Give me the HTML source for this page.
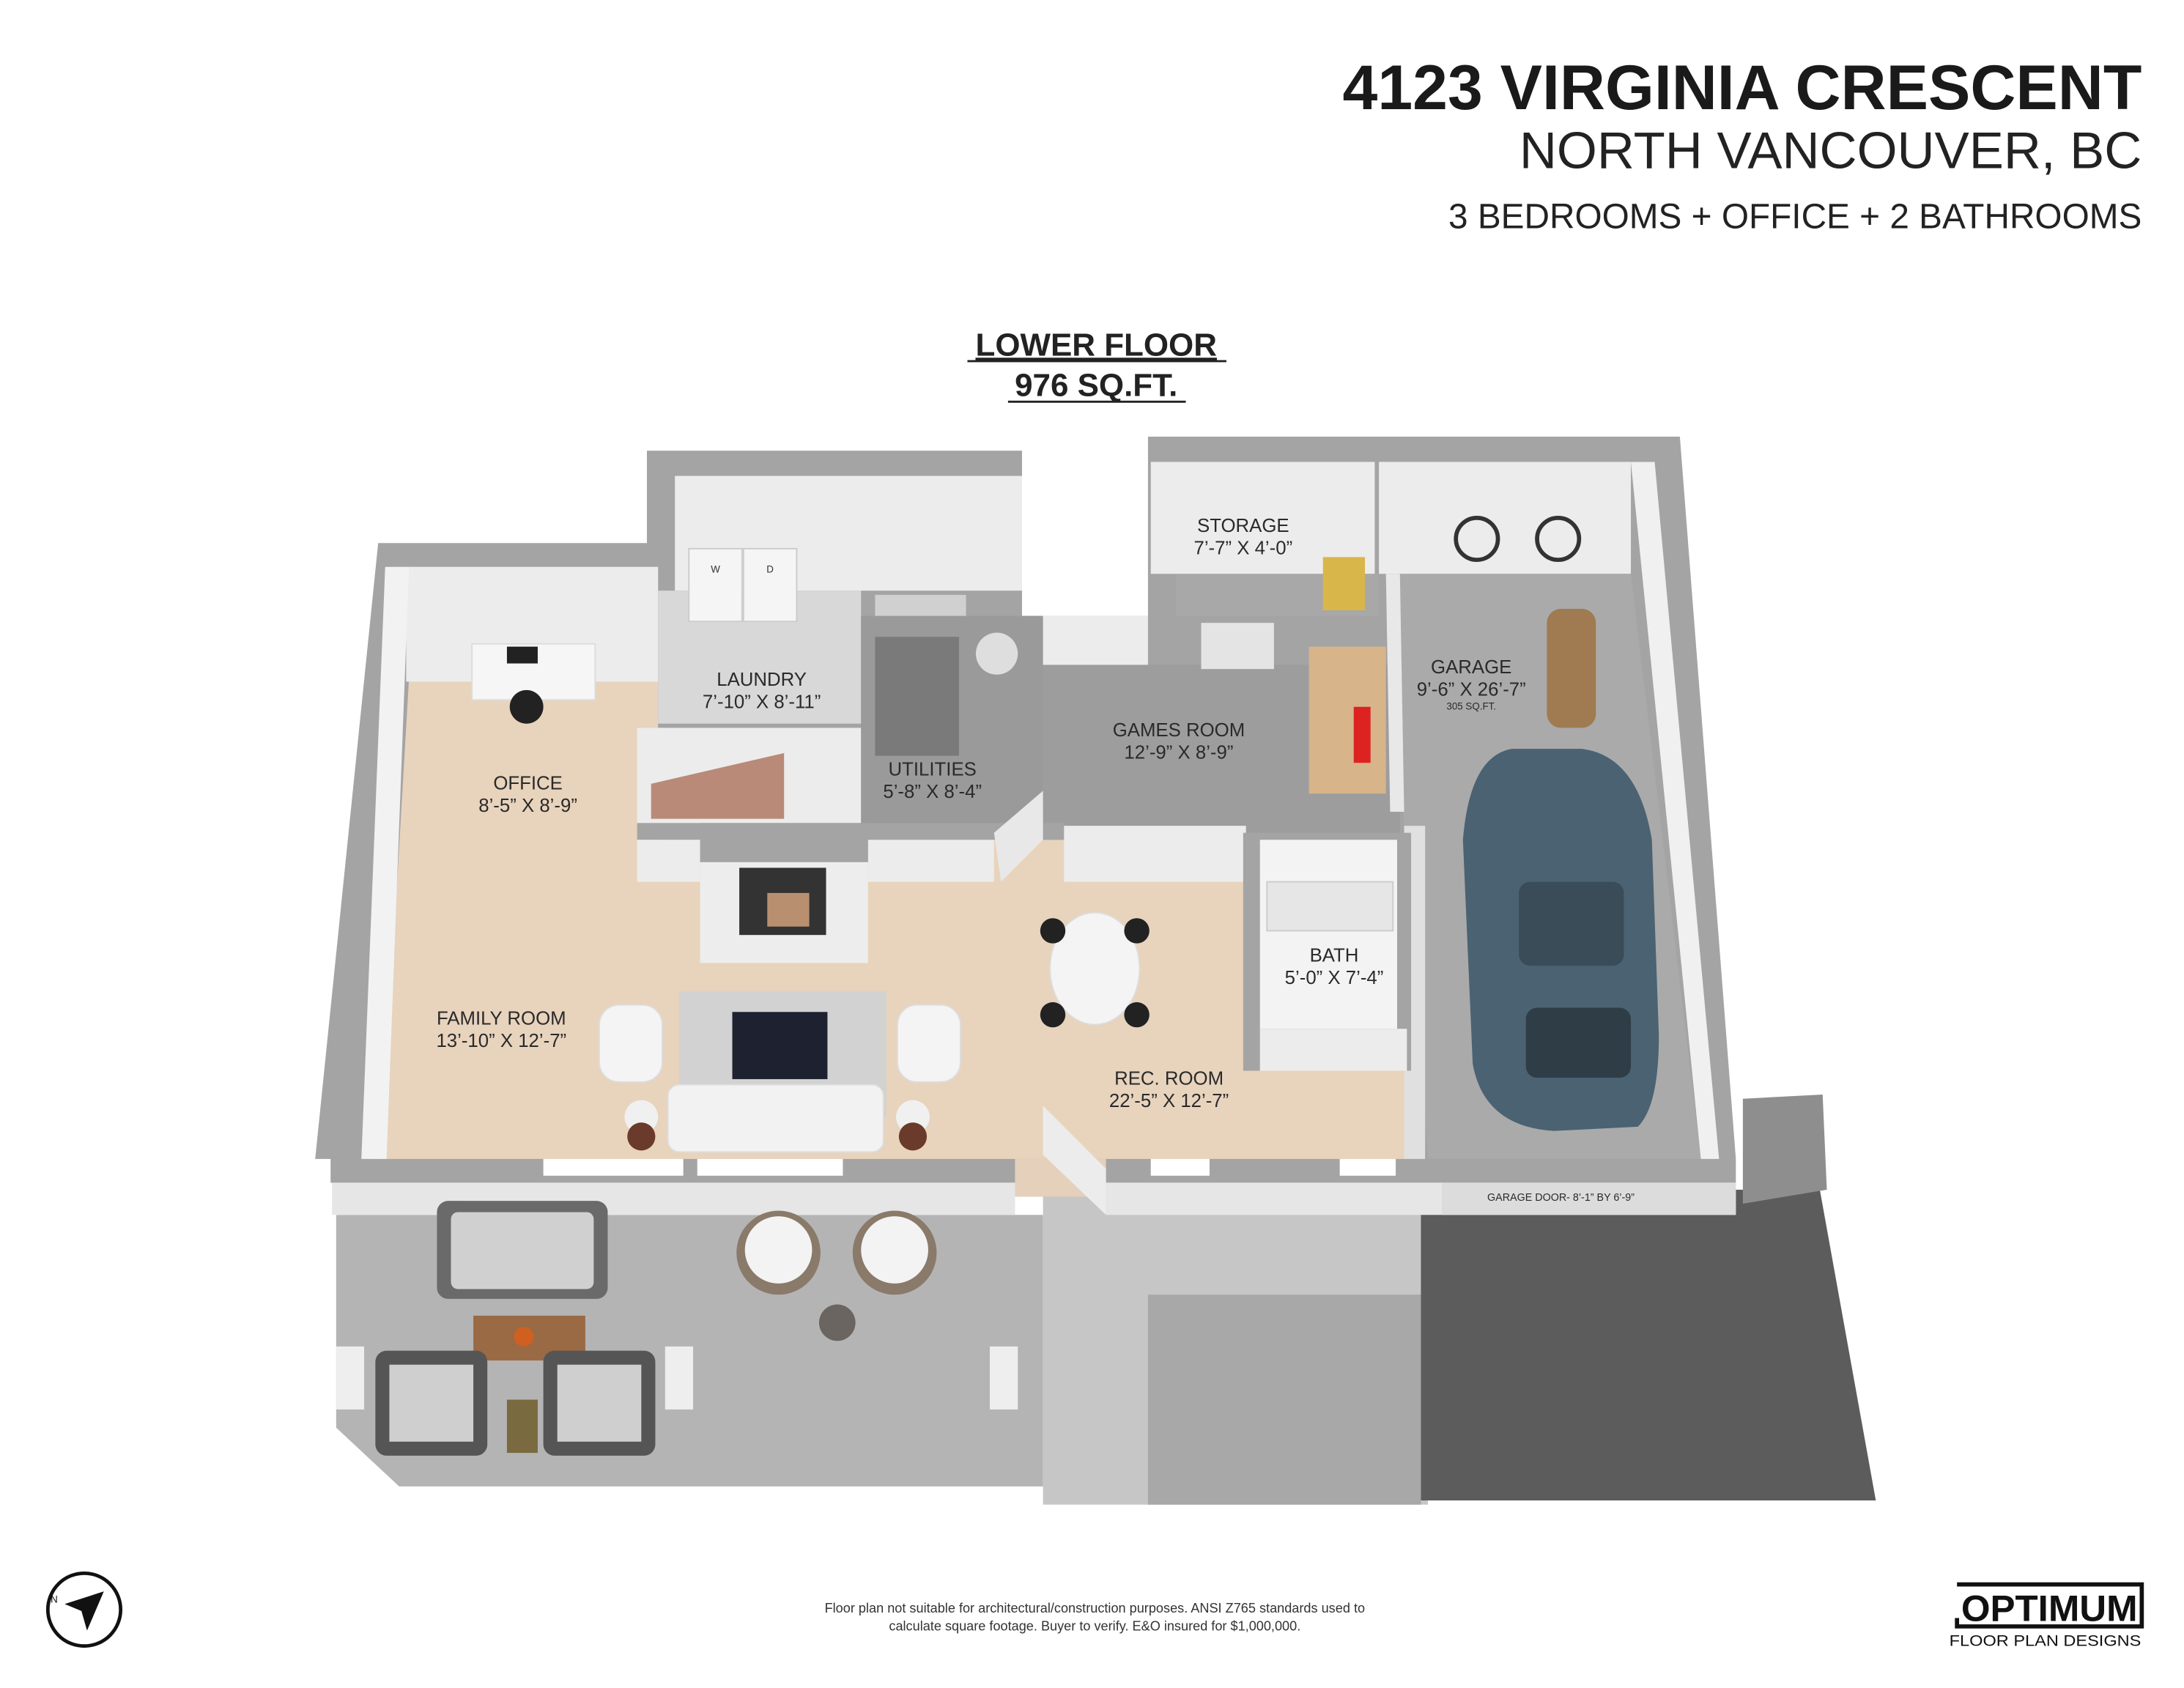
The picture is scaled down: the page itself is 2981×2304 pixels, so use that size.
<!DOCTYPE html>
<html><head><meta charset="utf-8"><style>
html,body{margin:0;padding:0;background:#fff}
svg{display:block}
text{font-family:"Liberation Sans",sans-serif}
</style></head><body>
<svg width="2981" height="2304" viewBox="0 0 1560 1206" xmlns="http://www.w3.org/2000/svg">
<rect width="1560" height="1206" fill="#fff"/>
<!-- titles -->
<text x="1530" y="78" text-anchor="end" font-size="45" font-weight="bold" fill="#1a1a1a">4123 VIRGINIA CRESCENT</text>
<text x="1530" y="120" text-anchor="end" font-size="37" fill="#222">NORTH VANCOUVER, BC</text>
<text x="1530" y="163" text-anchor="end" font-size="25" fill="#222">3 BEDROOMS + OFFICE + 2 BATHROOMS</text>
<text x="783" y="254" text-anchor="middle" font-size="23" font-weight="bold" fill="#222" text-decoration="underline">LOWER FLOOR</text>
<line x1="691" y1="258" x2="876" y2="258" stroke="#222" stroke-width="1.5"/>
<text x="783" y="283" text-anchor="middle" font-size="23" font-weight="bold" fill="#222">976 SQ.FT.</text>
<line x1="720" y1="287" x2="847" y2="287" stroke="#222" stroke-width="1.5"/>

<!-- outdoor -->
<polygon points="240,868 745,868 745,1062 285,1062 240,1020" fill="#b4b4b4"/>
<rect x="745" y="850" width="275" height="225" fill="#c6c6c6"/>
<rect x="820" y="925" width="195" height="150" fill="#a8a8a8"/>
<polygon points="1015,850 1300,850 1340,1072 1015,1072" fill="#5c5c5c"/>
<polygon points="1245,785 1302,782 1305,850 1245,860" fill="#8e8e8e"/>

<!-- outer walls -->
<polygon points="270,388 462,388 462,322 730,322 730,440 820,440 820,312 1200,312 1240,828 1240,845 236,845 236,828 225,828" fill="#a4a4a4"/>
<!-- bottom wall faces -->
<rect x="237" y="845" width="488" height="23" fill="#e6e6e6"/>
<rect x="790" y="845" width="450" height="23" fill="#e6e6e6"/>
<rect x="1030" y="845" width="210" height="23" fill="#dcdcdc"/>
<rect x="725" y="828" width="65" height="27" fill="#e4d0bb"/>

<!-- wood floor -->
<polygon points="292,485 470,485 470,600 1005,600 1005,828 272,828" fill="#e8d3bd"/>
<!-- office inner face -->
<rect x="290" y="405" width="180" height="82" fill="#ececec"/>
<polygon points="275,405 292,405 276,828 258,828" fill="#f2f2f2"/>
<!-- laundry -->
<rect x="482" y="340" width="248" height="82" fill="#ececec"/>
<rect x="470" y="422" width="145" height="95" fill="#d8d8d8"/>
<rect x="492" y="392" width="38" height="52" fill="#f5f5f5" stroke="#ccc"/>
<rect x="531" y="392" width="38" height="52" fill="#f5f5f5" stroke="#ccc"/>
<text x="511" y="409" font-size="7" text-anchor="middle" fill="#333">W</text>
<text x="550" y="409" font-size="7" text-anchor="middle" fill="#333">D</text>
<rect x="625" y="425" width="65" height="18" fill="#d0d0d0"/>
<!-- stairs -->
<rect x="455" y="520" width="160" height="70" fill="#ececec"/>
<polygon points="465,585 560,585 560,538 465,560" fill="#b98a78"/>
<!-- utilities -->
<rect x="615" y="440" width="130" height="160" fill="#9a9a9a"/>
<rect x="625" y="455" width="60" height="85" fill="#7a7a7a"/>
<circle cx="712" cy="467" r="15" fill="#dedede"/>
<!-- games room -->
<rect x="745" y="440" width="75" height="35" fill="#ececec"/>
<rect x="745" y="475" width="255" height="120" fill="#9d9d9d"/>
<rect x="858" y="445" width="52" height="33" fill="#e4e4e4"/>
<rect x="935" y="462" width="55" height="105" fill="#d7b48a"/>
<rect x="967" y="505" width="12" height="40" fill="#d22"/>
<!-- storage -->
<rect x="822" y="330" width="160" height="80" fill="#ececec"/>
<rect x="840" y="410" width="145" height="30" fill="#a8a8a8"/>
<rect x="945" y="398" width="30" height="38" fill="#d9b64a"/>
<!-- garage -->
<rect x="985" y="330" width="180" height="80" fill="#ececec"/>
<polygon points="990,410 1165,410 1215,828 1020,828" fill="#aaaaaa"/>
<polygon points="1165,330 1182,330 1228,828 1215,828" fill="#f0f0f0"/>
<polygon points="990,410 1000,410 1003,580 993,580" fill="#e8e8e8"/>
<rect x="1003" y="590" width="15" height="238" fill="#e0e0e0"/>
<circle cx="1055" cy="385" r="15" fill="none" stroke="#333" stroke-width="3"/>
<circle cx="1113" cy="385" r="15" fill="none" stroke="#333" stroke-width="3"/>
<rect x="1105" y="435" width="35" height="85" rx="10" fill="#a07a50"/>
<path d="M1080,535 Q1050,540 1045,600 L1052,760 Q1060,805 1110,808 L1170,805 Q1185,790 1185,740 L1180,600 Q1170,540 1130,535 Z" fill="#4b6272"/>
<rect x="1085" y="630" width="75" height="60" rx="8" fill="#3a4c58"/>
<rect x="1090" y="720" width="75" height="50" rx="8" fill="#2f3d47"/>
<!-- inner dividing walls -->
<rect x="455" y="588" width="305" height="12" fill="#a4a4a4"/>
<rect x="455" y="600" width="45" height="30" fill="#ececec"/>
<rect x="620" y="600" width="90" height="30" fill="#ececec"/>
<rect x="760" y="590" width="130" height="40" fill="#ececec"/>
<polygon points="710,595 745,565 745,600 715,630" fill="#e8e8e8"/>
<!-- fireplace -->
<rect x="500" y="588" width="120" height="28" fill="#a4a4a4"/>
<rect x="500" y="616" width="120" height="72" fill="#ededed"/>
<rect x="528" y="620" width="62" height="48" fill="#333"/>
<rect x="548" y="638" width="30" height="24" fill="#b89070"/>
<!-- bath -->
<rect x="888" y="595" width="120" height="170" fill="#a4a4a4"/>
<rect x="900" y="600" width="98" height="135" fill="#f3f3f3"/>
<rect x="900" y="735" width="105" height="30" fill="#ececec"/>
<rect x="905" y="630" width="90" height="35" fill="#e6e6e6" stroke="#ccc"/>
<!-- family furniture -->
<rect x="485" y="708" width="148" height="90" fill="#d2d2d2"/>
<rect x="523" y="723" width="68" height="48" fill="#1e2230"/>
<rect x="428" y="718" width="45" height="55" rx="14" fill="#f4f4f4" stroke="#ddd"/>
<rect x="641" y="718" width="45" height="55" rx="14" fill="#f4f4f4" stroke="#ddd"/>
<rect x="477" y="775" width="154" height="48" rx="8" fill="#f2f2f2" stroke="#ddd"/>
<circle cx="458" cy="798" r="12" fill="#f0f0f0"/><circle cx="458" cy="812" r="10" fill="#6a3a2a"/>
<circle cx="652" cy="798" r="12" fill="#f0f0f0"/><circle cx="652" cy="812" r="10" fill="#6a3a2a"/>
<!-- office desk -->
<rect x="337" y="460" width="88" height="40" fill="#f6f6f6" stroke="#ddd"/>
<rect x="362" y="462" width="22" height="12" fill="#222"/>
<circle cx="376" cy="505" r="12" fill="#222"/>
<!-- dining -->
<ellipse cx="782" cy="692" rx="32" ry="40" fill="#f4f4f4" stroke="#ddd"/>
<circle cx="752" cy="665" r="9" fill="#222"/><circle cx="812" cy="665" r="9" fill="#222"/>
<circle cx="752" cy="725" r="9" fill="#222"/><circle cx="812" cy="725" r="9" fill="#222"/>
<!-- door in rec room -->
<polygon points="745,790 790,835 790,868 745,825" fill="#ececec"/>
<!-- windows on bottom wall -->
<rect x="388" y="828" width="100" height="12" fill="#fff"/>
<rect x="498" y="828" width="104" height="12" fill="#fff"/>
<rect x="822" y="828" width="42" height="12" fill="#fff"/>
<rect x="957" y="828" width="40" height="12" fill="#fff"/>
<!-- patio furniture -->
<rect x="312" y="858" width="122" height="70" rx="8" fill="#6a6a6a"/>
<rect x="322" y="866" width="102" height="55" rx="5" fill="#d0d0d0"/>
<rect x="338" y="940" width="80" height="32" fill="#9a6a45"/>
<circle cx="374" cy="955" r="7" fill="#d06020"/>
<rect x="268" y="965" width="80" height="75" rx="8" fill="#555"/>
<rect x="278" y="975" width="60" height="55" fill="#cfcfcf"/>
<rect x="388" y="965" width="80" height="75" rx="8" fill="#555"/>
<rect x="398" y="975" width="60" height="55" fill="#cfcfcf"/>
<rect x="362" y="1000" width="22" height="38" fill="#7a6a40"/>
<circle cx="556" cy="895" r="30" fill="#8a7a6a"/><circle cx="556" cy="893" r="24" fill="#f3f3f3"/>
<circle cx="639" cy="895" r="30" fill="#8a7a6a"/><circle cx="639" cy="893" r="24" fill="#f3f3f3"/>
<circle cx="598" cy="945" r="13" fill="#6a6560"/>
<rect x="240" y="962" width="20" height="45" fill="#eee"/>
<rect x="475" y="962" width="20" height="45" fill="#eee"/>
<rect x="707" y="962" width="20" height="45" fill="#eee"/>

<!-- labels -->
<g font-size="13.5" fill="#2a2a2a" text-anchor="middle">
<text x="888" y="380">STORAGE</text><text x="888" y="396">7’-7” X 4’-0”</text>
<text x="1051" y="481">GARAGE</text><text x="1051" y="497">9’-6” X 26’-7”</text>
<text x="1051" y="507" font-size="7">305 SQ.FT.</text>
<text x="544" y="490">LAUNDRY</text><text x="544" y="506">7’-10” X 8’-11”</text>
<text x="842" y="526">GAMES ROOM</text><text x="842" y="542">12’-9” X 8’-9”</text>
<text x="377" y="564">OFFICE</text><text x="377" y="580">8’-5” X 8’-9”</text>
<text x="666" y="554">UTILITIES</text><text x="666" y="570">5’-8” X 8’-4”</text>
<text x="953" y="687">BATH</text><text x="953" y="703">5’-0” X 7’-4”</text>
<text x="358" y="732">FAMILY ROOM</text><text x="358" y="748">13’-10” X 12’-7”</text>
<text x="835" y="775">REC. ROOM</text><text x="835" y="791">22’-5” X 12’-7”</text>
<text x="1115" y="858" font-size="7.5">GARAGE DOOR- 8’-1” BY 6’-9”</text>
</g>

<!-- footer -->
<g font-size="9.5" fill="#333" text-anchor="middle">
<text x="782" y="1152">Floor plan not suitable for architectural/construction purposes. ANSI Z765 standards used to</text>
<text x="782" y="1165">calculate square footage. Buyer to verify.  E&amp;O insured for $1,000,000.</text>
</g>
<circle cx="60" cy="1150" r="26" fill="none" stroke="#111" stroke-width="2.5"/>
<polygon points="46,1146 74,1137 62,1165 58,1151" fill="#111"/>
<text x="36" y="1145" font-size="7" fill="#111">N</text>
<!-- logo -->
<path d="M1398,1132 L1530,1132 L1530,1162 L1398,1162 L1398,1156" fill="none" stroke="#111" stroke-width="3"/>
<text x="1464" y="1158" font-size="26" font-weight="bold" text-anchor="middle" fill="#111" textLength="126" lengthAdjust="spacingAndGlyphs">OPTIMUM</text>
<text x="1461" y="1176" font-size="11" text-anchor="middle" fill="#111" textLength="137" lengthAdjust="spacingAndGlyphs">FLOOR PLAN DESIGNS</text>
</svg>
</body></html>
